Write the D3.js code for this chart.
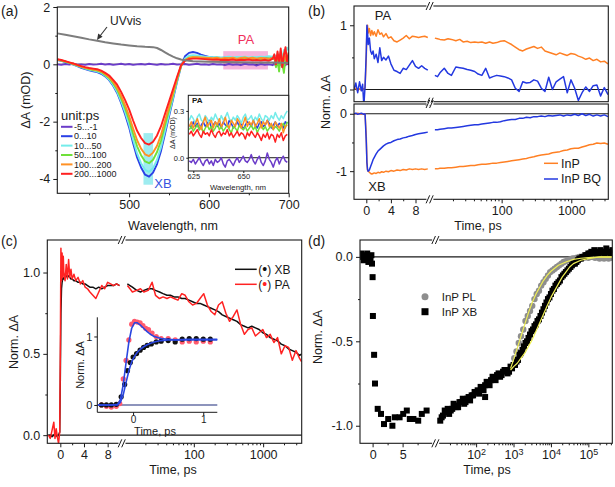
<!DOCTYPE html>
<html><head><meta charset="utf-8">
<script src="https://cdn.jsdelivr.net/npm/d3@7"></script>
<style>body{margin:0;background:#fff}</style>
</head><body>
<svg id="c" width="615" height="487" style="display:block"></svg>
<script>
// ---------------- DATA ----------------
// (a) transient spectra
const aWave = [410,415,420,425,430,435,440,445,450,455,460,465,
  470,475,480,485,490,495,500,505,510,515,520,525,530,535,540,545,550,555,560,565,
  570,575,580,585,590,595,600,605,610,615,620,625,630,635,640,645,650,655,660,665,670,675,680,
  682,684,686,688,690,692,694,696,698,700];
const aSeriesNames = ["-5...-1","0...10","10...50","50...100","100...200","200...1000"];
const aPurple = [0.0,-0.02,0.01,-0.01,0.02,-0.01,0.0,-0.02,0.01,-0.01,0.0,0.02,
  -0.01,0.01,-0.02,0.0,0.02,-0.01,0.01,-0.02,0.0,0.01,-0.01,0.02,0.0,-0.02,0.01,-0.01,0.0,0.02,-0.01,0.0,
  0.01,-0.02,0.0,0.02,-0.01,0.0,-0.02,0.01,-0.01,0.0,-0.03,0.01,-0.02,0.0,-0.03,0.02,-0.01,0.0,-0.04,0.01,-0.02,0.0,-0.03,
  0.04,-0.06,0.08,-0.04,0.02,-0.1,0.06,-0.03,0.05,-0.02];
const aBlue = [0.15,0.12,0.08,0.04,-0.01,-0.06,-0.12,-0.17,-0.21,-0.24,-0.27,-0.33,
  -0.42,-0.55,-0.75,-1.0,-1.35,-1.75,-2.2,-2.75,-3.25,-3.6,-3.85,-3.92,-3.78,-3.48,-3.02,-2.42,-1.82,-1.22,-0.62,-0.08,
  0.28,0.4,0.43,0.4,0.34,0.29,0.26,0.24,0.23,0.22,0.23,0.21,0.22,0.2,0.23,0.21,0.22,0.2,0.22,0.21,0.23,0.19,0.24,
  0.18,0.28,0.18,0.08,0.26,0.2,0.3,0.12,0.25,0.22];
const aCyan = [0.16,0.13,0.09,0.05,0.0,-0.05,-0.1,-0.15,-0.19,-0.22,-0.25,-0.3,
  -0.4,-0.53,-0.72,-0.96,-1.29,-1.67,-2.1,-2.63,-3.11,-3.45,-3.68,-3.75,-3.62,-3.33,-2.89,-2.32,-1.74,-1.17,-0.59,-0.07,
  0.2,0.3,0.32,0.31,0.29,0.27,0.26,0.25,0.26,0.24,0.25,0.27,0.24,0.26,0.25,0.27,0.24,0.26,0.25,0.27,0.26,0.28,0.27,
  0.32,0.15,0.4,0.2,0.45,0.18,0.5,0.3,0.58,0.5];
const aGreen = [0.16,0.13,0.09,0.05,0.01,-0.04,-0.09,-0.13,-0.17,-0.2,-0.22,-0.27,
  -0.37,-0.48,-0.66,-0.88,-1.19,-1.54,-1.94,-2.42,-2.86,-3.17,-3.39,-3.45,-3.33,-3.06,-2.66,-2.13,-1.6,-1.07,-0.55,-0.06,
  0.15,0.23,0.25,0.24,0.22,0.21,0.2,0.19,0.2,0.18,0.19,0.2,0.18,0.19,0.17,0.2,0.19,0.18,0.2,0.17,0.19,0.21,0.18,
  0.25,-0.1,0.12,-0.25,0.3,0.02,-0.3,0.25,0.05,0.4];
const aOrange = [0.17,0.14,0.1,0.06,0.02,-0.03,-0.08,-0.12,-0.15,-0.18,-0.2,-0.25,
  -0.34,-0.45,-0.61,-0.82,-1.1,-1.43,-1.8,-2.24,-2.65,-2.94,-3.14,-3.2,-3.08,-2.84,-2.46,-1.97,-1.49,-1.0,-0.5,-0.05,
  0.15,0.22,0.25,0.25,0.24,0.23,0.22,0.21,0.23,0.2,0.22,0.21,0.23,0.2,0.22,0.24,0.21,0.23,0.2,0.22,0.21,0.19,0.22,
  0.25,0.08,0.32,0.1,0.3,-0.02,0.38,0.15,0.3,0.2];
const aRed = [0.18,0.15,0.11,0.07,0.03,-0.02,-0.06,-0.1,-0.13,-0.15,-0.17,-0.22,
  -0.3,-0.39,-0.54,-0.71,-0.96,-1.25,-1.57,-1.96,-2.32,-2.57,-2.75,-2.8,-2.7,-2.48,-2.16,-1.73,-1.3,-0.87,-0.44,-0.04,
  0.12,0.18,0.2,0.2,0.19,0.18,0.17,0.16,0.17,0.15,0.16,0.15,0.17,0.14,0.16,0.15,0.17,0.14,0.15,0.13,0.16,0.12,0.2,
  0.35,0.0,0.45,0.08,0.55,-0.1,0.32,0.6,0.02,0.42];
const uvWave = [410,420,430,440,450,460,470,480,490,500,510,520,530,535,540,545,550,555,560,565,570,580,590,600,620,640,660,680,700];
const uvVal  = [1.08,1.03,0.98,0.93,0.87,0.82,0.77,0.73,0.69,0.66,0.63,0.61,0.6,0.57,0.5,0.42,0.34,0.27,0.21,0.17,0.14,0.11,0.1,0.09,0.08,0.07,0.06,0.06,0.05];
const paBand = [618, 674, -0.18, 0.46];
const xbBand = [518, 530, -4.2, -2.4];
const aXTicks = [500,600,700], aXMinor = [450,550,650];
const aYTicks = [2,0,-2,-4], aYMinor = [1,-1,-3];
// (a) inset
const insWave = [623,624,625,626,627,628,629,630,631,632,633,634,635,636,637,638,639,640,641,642,643,644,645,646,647,648,649,650,651,652,653,654,655,656,657,658,659,660,661,662,663,664,665,666,667,668,669,670,671,672];
const insCyan = [0.24,0.27,0.25,0.22,0.26,0.28,0.24,0.23,0.27,0.25,0.22,0.26,0.24,0.28,0.25,0.23,0.27,0.24,0.26,0.29,0.25,0.23,0.26,0.24,0.27,0.25,0.22,0.26,0.28,0.24,0.25,0.27,0.23,0.26,0.24,0.28,0.25,0.23,0.27,0.26,0.24,0.27,0.25,0.29,0.26,0.24,0.27,0.25,0.28,0.3];
const insBlue = [0.21,0.19,0.23,0.2,0.22,0.18,0.21,0.23,0.2,0.22,0.24,0.19,0.21,0.23,0.2,0.22,0.19,0.23,0.21,0.2,0.24,0.22,0.19,0.21,0.23,0.2,0.22,0.18,0.21,0.23,0.22,0.2,0.24,0.21,0.19,0.22,0.23,0.2,0.21,0.24,0.22,0.19,0.21,0.23,0.2,0.22,0.21,0.19,0.23,0.22];
const insOrange = [0.2,0.23,0.19,0.22,0.25,0.21,0.18,0.23,0.26,0.2,0.22,0.24,0.19,0.23,0.21,0.25,0.2,0.22,0.26,0.21,0.19,0.24,0.22,0.2,0.25,0.23,0.19,0.22,0.26,0.2,0.23,0.21,0.24,0.2,0.22,0.25,0.19,0.23,0.21,0.24,0.2,0.22,0.18,0.23,0.21,0.19,0.22,0.16,0.2,0.21];
const insGreen = [0.18,0.2,0.17,0.19,0.21,0.18,0.2,0.16,0.19,0.21,0.18,0.2,0.17,0.19,0.22,0.18,0.2,0.17,0.19,0.21,0.18,0.16,0.2,0.19,0.17,0.21,0.19,0.18,0.2,0.17,0.19,0.21,0.18,0.2,0.16,0.19,0.21,0.18,0.2,0.17,0.19,0.21,0.18,0.2,0.19,0.17,0.2,0.22,0.19,0.23];
const insRed = [0.15,0.17,0.14,0.16,0.18,0.15,0.13,0.17,0.15,0.16,0.14,0.18,0.15,0.13,0.16,0.17,0.14,0.16,0.15,0.18,0.14,0.16,0.13,0.15,0.17,0.14,0.16,0.15,0.12,0.16,0.14,0.17,0.15,0.13,0.16,0.14,0.11,0.15,0.13,0.16,0.12,0.15,0.14,0.1,0.15,0.13,0.16,0.11,0.14,0.15];
const insPurple = [-0.02,-0.03,-0.01,-0.04,-0.02,0.0,-0.03,-0.05,-0.02,-0.01,-0.04,-0.02,-0.05,-0.01,-0.03,-0.02,0.0,-0.04,-0.06,-0.02,-0.01,-0.03,-0.05,-0.02,0.0,-0.03,-0.01,0.01,-0.02,-0.03,-0.01,0.02,-0.02,-0.04,-0.01,0.01,-0.03,-0.05,-0.02,0.03,-0.01,-0.03,-0.06,-0.02,0.0,-0.04,-0.01,0.01,-0.02,-0.03];

// (b) kinetics
const bLinT = [-2,-1.7,-1.4,-1.1,-0.8,-0.6,-0.4,-0.2,0,0.1,0.2,0.3,0.5,0.7,0.9,1.1,1.3,1.6,1.9,2.2,2.5,2.8,3.2,3.6,4.0,4.5,5.0,5.5,6.0,6.5,7.0,7.5,8.0,8.5,9.0,9.5,10];
const bInpPALin = [0.0,0.02,-0.02,0.01,-0.01,0.02,0.0,0.03,0.5,0.95,1.0,0.88,0.95,0.84,0.92,0.85,0.9,0.83,0.93,0.86,0.88,0.82,0.87,0.8,0.82,0.76,0.74,0.77,0.8,0.84,0.79,0.83,0.82,0.81,0.82,0.83,0.81];
const bBqPALin = [0.0,0.1,-0.05,0.12,-0.02,0.08,-0.25,0.05,0.6,1.0,0.9,0.7,0.8,0.6,0.55,0.6,0.48,0.55,0.42,0.65,0.45,0.5,0.46,0.52,0.4,0.3,0.28,0.25,0.33,0.31,0.38,0.45,0.36,0.33,0.37,0.33,0.3];
const bInpXBLin = [0,0,0.01,0,-0.01,0,0,0,-0.4,-0.85,-0.98,-1.0,-1.02,-1.04,-1.05,-1.04,-1.03,-1.04,-1.02,-1.03,-1.01,-1.02,-1.0,-1.01,-0.99,-1.0,-0.98,-0.99,-0.97,-0.98,-0.96,-0.97,-0.96,-0.97,-0.96,-0.97,-0.96];
const bBqXBLin = [0,0.01,-0.01,0,0.01,0,-0.01,0,-0.5,-0.85,-0.97,-1.0,-0.98,-0.92,-0.86,-0.8,-0.76,-0.7,-0.65,-0.62,-0.59,-0.56,-0.53,-0.51,-0.5,-0.47,-0.45,-0.44,-0.42,-0.41,-0.39,-0.38,-0.36,-0.35,-0.34,-0.33,-0.32];
const bLogT = [11,12,13,15,17,19,22,25,28,32,36,41,46,52,59,67,75,85,96,109,123,139,157,178,201,227,257,290,328,371,419,474,536,606,685,774,875,989,1118,1264,1429,1615,1826,2064,2333,2637,2981,3370];
const bInpPALog = [0.8,0.79,0.78,0.77,0.79,0.78,0.76,0.78,0.74,0.75,0.73,0.74,0.73,0.74,0.72,0.74,0.72,0.73,0.75,0.76,0.73,0.7,0.66,0.62,0.6,0.63,0.65,0.67,0.64,0.66,0.6,0.58,0.56,0.54,0.57,0.55,0.53,0.56,0.55,0.52,0.5,0.47,0.49,0.45,0.47,0.43,0.44,0.4];
const bBqPALog = [0.22,0.2,0.26,0.33,0.25,0.22,0.35,0.34,0.33,0.31,0.3,0.28,0.24,0.22,0.33,0.18,0.2,0.22,0.21,0.2,0.18,0.15,0.02,-0.03,0.12,0.1,0.11,0.15,0.13,0.02,-0.03,0.19,0.0,0.12,0.16,0.2,-0.05,0.15,0.02,-0.17,-0.05,0.04,-0.03,0.06,0.07,-0.1,0.03,-0.08];
const bInpXBLog = [-0.96,-0.96,-0.95,-0.95,-0.94,-0.94,-0.93,-0.92,-0.92,-0.91,-0.9,-0.9,-0.89,-0.88,-0.88,-0.87,-0.86,-0.86,-0.85,-0.84,-0.83,-0.82,-0.81,-0.8,-0.79,-0.78,-0.76,-0.75,-0.73,-0.72,-0.71,-0.7,-0.68,-0.67,-0.66,-0.64,-0.63,-0.61,-0.6,-0.6,-0.58,-0.56,-0.54,-0.53,-0.51,-0.52,-0.51,-0.53];
const bBqXBLog = [-0.28,-0.28,-0.27,-0.26,-0.25,-0.25,-0.24,-0.23,-0.22,-0.21,-0.2,-0.19,-0.19,-0.18,-0.17,-0.16,-0.15,-0.15,-0.14,-0.12,-0.11,-0.1,-0.1,-0.08,-0.08,-0.06,-0.07,-0.05,-0.05,-0.04,-0.05,-0.03,-0.04,-0.03,-0.02,-0.04,-0.02,-0.03,-0.01,-0.03,0.0,-0.03,-0.01,-0.04,-0.02,-0.04,-0.02,-0.05];
const linTicks = [0,4,8], linMinor = [2,6];
const logTicks = [100,1000], logMinor = [20,30,40,50,60,70,80,90,200,300,400,500,600,700,800,900,2000,3000];

// (c) XB vs PA
const cLinT = [-2,-1.7,-1.4,-1.1,-0.9,-0.7,-0.5,-0.3,-0.1,0,0.1,0.2,0.3,0.4,0.5,0.6,0.8,1.0,1.2,1.4,1.6,1.8,2.0,2.3,2.6,3.0,3.4,3.8,4.2,4.6,5.0,5.5,6.0,6.5,7.0,7.5,8.0,8.5,9.0,9.5,10];
const cPALin = [0.0,-0.02,0.03,0.08,-0.02,0.04,-0.01,-0.05,0.02,0.5,1.15,0.95,1.12,0.97,1.1,1.0,0.95,1.05,0.96,1.08,0.97,1.02,0.96,0.99,0.95,0.97,0.93,0.95,0.91,0.9,0.88,0.86,0.84,0.88,0.92,0.9,0.94,0.93,0.92,0.93,0.92];
const cXBLin = [0.0,0.0,-0.01,0.0,0.01,0.0,-0.01,0.0,0.02,0.35,0.75,0.9,0.94,0.96,0.97,0.96,0.97,0.98,0.97,0.98,0.97,0.96,0.96,0.95,0.95,0.94,0.94,0.93,0.93,0.92,0.91,0.91,0.9,0.91,0.9,0.91,0.92,0.92,0.92,0.93,0.92];
const cLogT = [11,12,13,15,17,19,22,25,28,32,36,41,46,52,59,67,75,85,96,109,123,139,157,178,201,227,257,290,328,371,419,474,536,606,685,774,875,989,1118,1264,1429,1615,1826,2064,2333,2637,2981,3370,3600];
const cXBLog = [0.93,0.92,0.91,0.89,0.88,0.89,0.9,0.9,0.89,0.88,0.87,0.86,0.86,0.85,0.85,0.84,0.84,0.83,0.82,0.81,0.81,0.8,0.79,0.78,0.77,0.76,0.74,0.73,0.72,0.71,0.7,0.68,0.67,0.66,0.67,0.66,0.65,0.63,0.62,0.6,0.59,0.58,0.56,0.55,0.53,0.52,0.51,0.49,0.5];
const cPALog = [0.92,0.9,0.88,0.89,0.9,0.88,0.89,0.94,0.86,0.84,0.85,0.84,0.85,0.84,0.83,0.87,0.86,0.82,0.8,0.81,0.84,0.87,0.8,0.76,0.74,0.8,0.82,0.75,0.7,0.73,0.77,0.68,0.62,0.65,0.66,0.61,0.63,0.65,0.6,0.62,0.57,0.6,0.5,0.55,0.54,0.46,0.52,0.47,0.45];
// (c) inset
const insXbT = [-0.45,-0.38,-0.31,-0.24,-0.17,-0.12,-0.08,-0.04,0,0.05,0.1,0.15,0.2,0.26,0.33,0.4,0.5,0.6,0.7,0.8,0.9,1.0,1.1];
const insXbV = [0,0,0,0.01,0.12,0.3,0.5,0.62,0.7,0.75,0.8,0.84,0.87,0.89,0.92,0.93,0.94,0.92,0.96,0.97,0.97,0.96,0.96];
const insPaT = [-0.45,-0.38,-0.31,-0.24,-0.19,-0.14,-0.1,-0.06,-0.02,0.02,0.06,0.1,0.14,0.18,0.22,0.27,0.33,0.4,0.5,0.6,0.7,0.8,0.9,1.0,1.1];
const insPaV = [0,-0.02,-0.03,-0.02,0.02,0.38,0.65,0.95,1.18,1.22,1.21,1.2,1.16,1.12,1.1,1.05,1.0,0.97,0.97,0.95,0.92,0.93,0.92,0.93,0.92];
const fitT = [-0.5,-0.3,-0.22,-0.18,-0.14,-0.1,-0.06,-0.02,0.02,0.06,0.1,0.15,0.2,0.25,0.3,0.4,0.5,0.6,0.8,1.0,1.2];
const paFitV = [0,0,0.01,0.08,0.3,0.62,0.92,1.12,1.2,1.2,1.17,1.12,1.07,1.03,1.0,0.97,0.96,0.95,0.95,0.95,0.95];
const xbFitV = [0,0,0,0.04,0.15,0.33,0.5,0.63,0.71,0.77,0.81,0.85,0.88,0.9,0.92,0.94,0.95,0.95,0.96,0.96,0.96];

// (d) PL vs XB
const dLinT = [-1.9,-1.7,-1.5,-1.3,-1.1,-0.9,-0.7,-0.5,-0.35,-0.2,-0.1,0.0,0.05,0.25,0.4,0.85,1.4,1.9,2.6,3.3,3.7,4.5,5.1,5.7,6.2,6.8,7.6,8.2,9.0];
const dLinV = [0.02,0.0,-0.02,0.01,-0.01,0.02,-0.03,0.0,-0.02,0.01,-0.04,-0.12,-0.35,-0.58,-0.75,-0.9,-0.93,-0.99,-0.96,-1.0,-0.95,-0.95,-0.93,-0.91,-0.96,-0.96,-0.97,-0.93,-0.91];
const dLogT = [11,13,16,19,23,28,33,40,48,58,69,83,100,120,145,174,209,251,302,363,437,525,631,759,912,1096,1318,1585,1905,2291,2754,3311,3981,4786,5754,6918,8318,10000,12023,14454,17378,20893,25119,30200,36308,43652,52481,63096,75858,91201,109648,131826,158489,190546,229087,275423,331131,398107];
const dLogV = [-0.97,-0.94,-0.92,-0.93,-0.9,-0.88,-0.89,-0.86,-0.87,-0.84,-0.85,-0.82,-0.8,-0.81,-0.78,-0.76,-0.75,-0.73,-0.72,-0.7,-0.71,-0.68,-0.67,-0.68,-0.66,-0.64,-0.61,-0.57,-0.53,-0.5,-0.46,-0.43,-0.4,-0.37,-0.33,-0.29,-0.25,-0.22,-0.19,-0.16,-0.14,-0.11,-0.09,-0.07,-0.05,-0.04,-0.02,-0.01,0.0,0.01,0.02,0.02,0.03,0.02,0.03,0.02,0.03,0.02];
const dLogT2 = [12,14.5,17.4,21,25,30,36,44,52,63,76,91,110,132,158,191,229,275,331,398,479,575,692,832,1000,1202,1445,1738,2089,2512,3020,3631,4365,5248,6310,7586,9120,10965,13183,15849,19055,22909,27542,33113,39811,47863,57544,69183,83176,100000,120226,144544,173780,208930,251189,301995,363078,436516];
const dLogV2 = [-0.95,-0.91,-0.9,-0.91,-0.87,-0.89,-0.86,-0.84,-0.86,-0.83,-0.82,-0.8,-0.79,-0.77,-0.79,-0.74,-0.76,-0.71,-0.73,-0.69,-0.7,-0.67,-0.69,-0.65,-0.64,-0.62,-0.58,-0.55,-0.51,-0.48,-0.44,-0.41,-0.38,-0.35,-0.31,-0.27,-0.24,-0.2,-0.17,-0.15,-0.12,-0.1,-0.08,-0.06,-0.04,-0.03,-0.01,0.0,0.01,0.02,0.03,0.04,0.02,0.04,0.03,0.05,0.03,0.04];
const dXbExtraT = [174], dXbExtraV = [-0.83];
const dPLT = [912,1047,1202,1380,1585,1820,2089,2399,2754,3162,3631,4169,4786,5495,6310,7244,8318,9550,10965,12589,14454,16596,19055,21878,25119,28840,33113,38019,43652,50119,57544,66069,75858,87096,100000,114815,131826,151356,173780,199526,229087,263027,301995,346737,398107];
const dPLV = [-0.65,-0.6,-0.56,-0.51,-0.47,-0.43,-0.38,-0.35,-0.32,-0.29,-0.25,-0.22,-0.2,-0.17,-0.15,-0.13,-0.11,-0.09,-0.08,-0.07,-0.06,-0.05,-0.04,-0.03,-0.025,-0.02,-0.015,-0.01,-0.01,-0.005,0.0,0.0,-0.005,0.0,-0.005,0.0,0.0,-0.005,0.0,-0.01,-0.005,-0.01,-0.005,-0.01,-0.005];
const fitPLT = [832,1000,1259,1585,1995,2512,3162,3981,5012,6310,7943,10000,15849,25119,39811,63096,100000,199526,436516];
const fitPLV = [-0.66,-0.61,-0.54,-0.47,-0.4,-0.33,-0.27,-0.22,-0.18,-0.14,-0.11,-0.085,-0.05,-0.03,-0.015,-0.008,-0.004,-0.002,-0.001];
const fitXBT = [832,1000,1259,1585,1995,2512,3162,3981,5012,6310,7943,10000,12589,15849,19953,25119,31623,39811,63096,100000,199526,436516];
const fitXBV = [-0.67,-0.65,-0.63,-0.6,-0.57,-0.53,-0.49,-0.44,-0.39,-0.34,-0.29,-0.24,-0.2,-0.16,-0.12,-0.09,-0.06,-0.04,-0.02,-0.01,0.0,0.0];
const dLogTicks = [100,1000,10000,100000];
const dLogMinor = [20,30,40,50,60,70,80,90,200,300,400,500,600,700,800,900,2000,3000,4000,5000,6000,7000,8000,9000,20000,30000,40000,50000,60000,70000,80000,90000,200000,300000,400000];

// ---------------- HELPERS ----------------
const svg = d3.select("#c");
const F = '"Liberation Sans", Arial, Helvetica, sans-serif';
const INK = "#1a1a1a";

function txt(x, y, s, size, o = {}) {
  const t = svg.append("text").attr("x", x).attr("y", y).attr("font-size", size)
    .attr("font-family", F).attr("fill", o.fill || INK).text(s);
  if (o.anchor) t.attr("text-anchor", o.anchor);
  if (o.rot) t.attr("transform", `rotate(-90,${x},${y})`);
  if (o.weight) t.attr("font-weight", o.weight);
  return t;
}
function axis(gen, scale, tr, vals, size, fmt, fs, pad) {
  const a = gen(scale).tickValues(vals).tickSize(size).tickPadding(pad == null ? 3 : pad)
    .tickFormat(fmt || (() => ""));
  const g = svg.append("g").attr("transform", tr).call(a);
  g.select(".domain").remove();
  g.selectAll("line").attr("stroke", INK).attr("stroke-width", 1);
  g.selectAll("text").attr("font-size", fs || 12).attr("font-family", F).attr("fill", INK);
  return g;
}
let clipN = 0;
function clip(x0, y0, x1, y1) {
  const id = "cl" + (clipN++);
  svg.append("clipPath").attr("id", id).append("rect")
    .attr("x", x0).attr("y", y0).attr("width", x1 - x0).attr("height", y1 - y0);
  return `url(#${id})`;
}
function frame(x0, y0, x1, y1, sw) {
  svg.append("rect").attr("x", x0).attr("y", y0).attr("width", x1 - x0).attr("height", y1 - y0)
    .attr("fill", "none").attr("stroke", INK).attr("stroke-width", sw || 1.1);
}
function hline(x0, x1, y, color, w) {
  svg.append("line").attr("x1", x0).attr("x2", x1).attr("y1", y).attr("y2", y)
    .attr("stroke", color || INK).attr("stroke-width", w || 1.1);
}
function breakMark(x, y) {
  svg.append("rect").attr("x", x - 3.5).attr("y", y - 1.5).attr("width", 7).attr("height", 3).attr("fill", "#fff");
  [-2, 1.5].forEach(o => svg.append("line").attr("x1", x + o - 1.8).attr("y1", y + 4)
    .attr("x2", x + o + 1.8).attr("y2", y - 4).attr("stroke", INK).attr("stroke-width", 1));
}
function path(xs, ys, xsc, ysc, color, w, cp) {
  const gen = d3.line().x((d, i) => xsc(xs[i])).y((d, i) => ysc(ys[i]));
  svg.append("path").attr("d", gen(xs)).attr("fill", "none").attr("stroke", color)
    .attr("stroke-width", w).attr("stroke-linejoin", "round").attr("clip-path", cp);
}
function dots(xs, ys, xsc, ysc, color, r, cp) {
  svg.append("g").attr("clip-path", cp).selectAll("circle").data(xs).join("circle")
    .attr("cx", (d, i) => xsc(xs[i])).attr("cy", (d, i) => ysc(ys[i])).attr("r", r).attr("fill", color);
}
function squares(xs, ys, xsc, ysc, color, s, cp) {
  svg.append("g").attr("clip-path", cp).selectAll("rect").data(xs).join("rect")
    .attr("x", (d, i) => xsc(xs[i]) - s / 2).attr("y", (d, i) => ysc(ys[i]) - s / 2)
    .attr("width", s).attr("height", s).attr("fill", color);
}

// ---------------- PANEL (a) ----------------
{
  const X0 = 57.3, X1 = 288.7, Y0 = 7, Y1 = 193.3;
  const x = d3.scaleLinear().domain([410, 700]).range([X0, X1]);
  const y = d3.scaleLinear().domain([-4.5, 2]).range([Y1, Y0]);
  const cp = clip(X0, Y0, X1, Y1);
  svg.append("rect").attr("x", x(paBand[0])).attr("y", y(paBand[3])).attr("width", x(paBand[1]) - x(paBand[0]))
    .attr("height", y(paBand[2]) - y(paBand[3])).attr("fill", "#f6b3dc");
  svg.append("rect").attr("x", x(xbBand[0])).attr("y", y(xbBand[3])).attr("width", x(xbBand[1]) - x(xbBand[0]))
    .attr("height", y(xbBand[2]) - y(xbBand[3])).attr("fill", "#9eecf0");
  hline(X0, X1, y(0), INK, 1.3);
  const cols = ["#6b3cc9", "#2a40e6", "#74ecea", "#6fe03a", "#ff9124", "#ff2020"];
  const ser = [aPurple, aBlue, aCyan, aGreen, aOrange, aRed];
  ser.forEach((s, i) => path(aWave, s, x, y, cols[i], 1.9, cp));
  path(uvWave, uvVal, x, y, "#7d7d7d", 2, cp);
  // arrow
  svg.append("line").attr("x1", 107).attr("y1", 27).attr("x2", 100).attr("y2", 36).attr("stroke", "#333").attr("stroke-width", 1.1);
  svg.append("path").attr("d", "M97,40 L98.2,33.5 L102.6,36.8 Z").attr("fill", "#333");
  txt(110, 25, "UVvis", 12);
  txt(246, 44, "PA", 13, { anchor: "middle", fill: "#f0305c" });
  txt(163, 188, "XB", 13, { anchor: "middle", fill: "#3552e0" });
  frame(X0, Y0, X1, Y1);
  axis(d3.axisBottom, x, `translate(0,${Y1})`, aXTicks, 4, d => String(d), 12.5);
  axis(d3.axisBottom, x, `translate(0,${Y1})`, aXMinor, 2);
  axis(d3.axisLeft, y, `translate(${X0},0)`, aYTicks, 4, d => String(d), 12.5);
  axis(d3.axisLeft, y, `translate(${X0},0)`, aYMinor, 2);
  txt(173, 230, "Wavelength, nm", 12.5, { anchor: "middle" });
  txt(30, 100, "ΔA (mOD)", 12.5, { anchor: "middle", rot: true });
  txt(1, 16, "(a)", 14);
  // legend
  txt(61, 119.5, "unit:ps", 13);
  aSeriesNames.forEach((n, i) => {
    const yy = 126.8 + i * 9.4;
    svg.append("line").attr("x1", 61).attr("x2", 72.5).attr("y1", yy).attr("y2", yy).attr("stroke", cols[i]).attr("stroke-width", 2);
    txt(74, yy + 3.2, n, 9);
  });
  // inset
  const IX0 = 188.3, IX1 = 288.7, IY0 = 95.3, IY1 = 171;
  svg.append("rect").attr("x", IX0).attr("y", IY0).attr("width", IX1 - IX0).attr("height", IY1 - IY0).attr("fill", "#fff");
  const ix = d3.scaleLinear().domain([622.5, 672.7]).range([IX0, IX1]);
  const iy = d3.scaleLinear().domain([-0.085, 0.4]).range([IY1, IY0]);
  const icp = clip(IX0, IY0, IX1, IY1);
  hline(IX0, IX1, iy(0), INK, 1);
  const iser = [insPurple, insBlue, insCyan, insGreen, insOrange, insRed];
  iser.forEach((s, i) => path(insWave, s, ix, iy, cols[i], 1.5, icp));
  frame(IX0, IY0, IX1, IY1, 1);
  axis(d3.axisBottom, ix, `translate(0,${IY1})`, [625, 650], 2, d => String(d), 7.5, 1);
  axis(d3.axisLeft, iy, `translate(${IX0},0)`, [0, 0.3], 2, d => d.toFixed(1), 7.5, 2);
  txt(238, 190, "Wavelength, nm", 7.8, { anchor: "middle" });
  txt(175, 133, "ΔA (mOD)", 7, { anchor: "middle", rot: true });
  txt(192, 103, "PA", 8, { weight: "bold" });
}

// ---------------- PANEL (b) ----------------
{
  const X0 = 354, X1 = 608.3, XB1 = 427.8, XL0 = 432;
  const UY0 = 6, UY1 = 101.7, LY0 = 104, LY1 = 199.3;
  const xl = d3.scaleLinear().domain([-2, 10]).range([X0, XB1]);
  const xg = d3.scaleLog().domain([10, 3400]).range([XL0, X1]);
  const yu = d3.scaleLinear().domain([-0.19, 1.3]).range([UY1, UY0]);
  const yd = d3.scaleLinear().domain([-1.49, 0.17]).range([LY1, LY0]);
  const cu = clip(X0, UY0, X1, UY1), cd = clip(X0, LY0, X1, LY1);
  hline(X0, X1, yu(0), INK, 1.2);
  hline(X0, X1, yd(0), INK, 1.2);
  const OR = "#ff8024", BL = "#2338e0";
  path(bLinT, bInpPALin, xl, yu, OR, 1.5, cu);
  path(bLogT, bInpPALog, xg, yu, OR, 1.5, cu);
  path(bLinT, bBqPALin, xl, yu, BL, 1.5, cu);
  path(bLogT, bBqPALog, xg, yu, BL, 1.5, cu);
  path(bLinT, bInpXBLin, xl, yd, OR, 1.5, cd);
  path(bLogT, bInpXBLog, xg, yd, OR, 1.5, cd);
  path(bLinT, bBqXBLin, xl, yd, BL, 1.5, cd);
  path(bLogT, bBqXBLog, xg, yd, BL, 1.5, cd);
  frame(X0, UY0, X1, UY1);
  frame(X0, LY0, X1, LY1);
  axis(d3.axisBottom, xl, `translate(0,${LY1})`, linTicks, 4, d => String(d), 12.5);
  axis(d3.axisBottom, xl, `translate(0,${LY1})`, linMinor, 2);
  axis(d3.axisBottom, xg, `translate(0,${LY1})`, logTicks, 4, d => String(d), 12.5);
  axis(d3.axisBottom, xg, `translate(0,${LY1})`, logMinor, 2);
  axis(d3.axisLeft, yu, `translate(${X0},0)`, [0, 1], 4, d => String(d), 12.5);
  axis(d3.axisLeft, yu, `translate(${X0},0)`, [0.5], 2);
  axis(d3.axisLeft, yd, `translate(${X0},0)`, [0, -1], 4, d => String(d), 12.5);
  axis(d3.axisLeft, yd, `translate(${X0},0)`, [-0.5], 2);
  const bx = (XB1 + XL0) / 2;
  [UY0, UY1, LY0, LY1].forEach(yy => breakMark(bx, yy));
  txt(383, 20, "PA", 13, { anchor: "middle" });
  txt(377, 191, "XB", 13, { anchor: "middle" });
  txt(478, 230, "Time, ps", 12.5, { anchor: "middle" });
  txt(330, 102, "Norm. ΔA", 12.5, { anchor: "middle", rot: true });
  txt(308, 16, "(b)", 14);
  [["InP", OR, 163.3], ["InP BQ", BL, 179]].forEach(([n, c, yy]) => {
    svg.append("line").attr("x1", 544).attr("x2", 558).attr("y1", yy).attr("y2", yy).attr("stroke", c).attr("stroke-width", 1.5);
    txt(561, yy + 4.3, n, 12.5);
  });
}

// ---------------- PANEL (c) ----------------
{
  const X0 = 47.3, X1 = 301.7, XB1 = 119.5, XL0 = 124.5, Y0 = 240, Y1 = 443.3;
  const xl = d3.scaleLinear().domain([-2.2, 10]).range([X0, XB1]);
  const xg = d3.scaleLog().domain([10, 3600]).range([XL0, X1]);
  const y = d3.scaleLinear().domain([-0.05, 1.2]).range([Y1, Y0]);
  const cp = clip(X0, Y0, X1, Y1);
  hline(X0, X1, y(0), INK, 1.2);
  const RD = "#ff2222", BK = "#111";
  path(cLinT, cXBLin, xl, y, BK, 1.5, cp);
  path(cLogT, cXBLog, xg, y, BK, 1.5, cp);
  path(cLinT, cPALin, xl, y, RD, 1.5, cp);
  path(cLogT, cPALog, xg, y, RD, 1.5, cp);
  frame(X0, Y0, X1, Y1);
  axis(d3.axisBottom, xl, `translate(0,${Y1})`, linTicks, 4, d => String(d), 12.5);
  axis(d3.axisBottom, xl, `translate(0,${Y1})`, linMinor, 2);
  axis(d3.axisBottom, xg, `translate(0,${Y1})`, logTicks, 4, d => String(d), 12.5);
  axis(d3.axisBottom, xg, `translate(0,${Y1})`, logMinor, 2);
  axis(d3.axisLeft, y, `translate(${X0},0)`, [0, 0.5, 1], 4, d => d.toFixed(1), 12.5);
  axis(d3.axisLeft, y, `translate(${X0},0)`, [0.25, 0.75], 2);
  const bx = (XB1 + XL0) / 2;
  [Y0, Y1].forEach(yy => breakMark(bx, yy));
  txt(173, 474, "Time, ps", 12.5, { anchor: "middle" });
  txt(18, 342, "Norm. ΔA", 12.5, { anchor: "middle", rot: true });
  txt(1, 246, "(c)", 14);
  [["XB", BK, 269.3], ["PA", RD, 284.3]].forEach(([n, c, yy]) => {
    svg.append("line").attr("x1", 235).attr("x2", 256.7).attr("y1", yy).attr("y2", yy).attr("stroke", c).attr("stroke-width", 1.5);
    const t = txt(258.3, yy + 4.3, "(", 12);
    t.append("tspan").attr("fill", c).attr("font-size", 14).text("•");
    t.append("tspan").text(") " + n);
  });
  // inset
  const IX0 = 97.3, IX1 = 217.3, IY0 = 317.3, IY1 = 412.3;
  const ix = d3.scaleLinear().domain([-0.51, 1.2]).range([IX0, IX1]);
  const iy = d3.scaleLinear().domain([-0.107, 1.28]).range([IY1, IY0]);
  const icp = clip(IX0, IY0 - 3, IX1 + 3, IY1);
  hline(IX0, IX1, iy(0), "#1c2a7a", 1.1);
  dots(insPaT, insPaV, ix, iy, "#ff5a6e", 2.6, icp);
  dots(insXbT, insXbV, ix, iy, "#111", 2.6, icp);
  path(fitT, paFitV, ix, iy, "#2a46e0", 1.6, icp);
  path(fitT, xbFitV, ix, iy, "#2a46e0", 1.6, icp);
  svg.append("line").attr("x1", IX0).attr("x2", IX0).attr("y1", IY0).attr("y2", IY1).attr("stroke", INK).attr("stroke-width", 1);
  hline(IX0, IX1, IY1, INK, 1);
  axis(d3.axisBottom, ix, `translate(0,${IY1})`, [0, 1], 3, d => String(d), 10, 1);
  axis(d3.axisLeft, iy, `translate(${IX0},0)`, [0, 1], 3, d => String(d), 11, 2);
  txt(155, 434.5, "Time, ps", 11, { anchor: "middle" });
  txt(84, 365, "Norm. ΔA", 11, { anchor: "middle", rot: true });
}

// ---------------- PANEL (d) ----------------
{
  const X0 = 360, X1 = 612.3, XB1 = 432.6, XL0 = 438.7, Y0 = 240, Y1 = 443.3;
  const xl = d3.scaleLinear().domain([-2.1, 10]).range([X0, XB1]);
  const xg = d3.scaleLog().domain([10, 436516]).range([XL0, X1]);
  const y = d3.scaleLinear().domain([-1.104, 0.1]).range([Y1, Y0]);
  const cp = clip(X0, Y0, X1, Y1);
  hline(X0, X1, y(0), INK, 1.2);
  dots(dPLT, dPLV, xg, y, "#8e8e8e", 3.2, cp);
  squares(dLinT, dLinV, xl, y, "#000", 6, cp);
  squares(dLogT, dLogV, xg, y, "#000", 6, cp);
  squares(dLogT2, dLogV2, xg, y, "#000", 6, cp);
  squares(dXbExtraT, dXbExtraV, xg, y, "#000", 6, cp);
  path(fitPLT, fitPLV, xg, y, "#eeee55", 1.2, cp);
  path(fitXBT, fitXBV, xg, y, "#eeee55", 1.2, cp);
  frame(X0, Y0, X1, Y1);
  axis(d3.axisBottom, xl, `translate(0,${Y1})`, [0, 5], 4, d => String(d), 12.5);
  axis(d3.axisBottom, xl, `translate(0,${Y1})`, [2.5, 7.5], 2);
  const lg = axis(d3.axisBottom, xg, `translate(0,${Y1})`, dLogTicks, 4, d => String(d), 12.5);
  lg.selectAll("text").each(function (d) {
    const t = d3.select(this);
    t.text("10");
    t.append("tspan").attr("dy", "-0.45em").attr("font-size", 9).text(String(Math.round(Math.log10(d))));
  });
  axis(d3.axisBottom, xg, `translate(0,${Y1})`, dLogMinor, 2);
  axis(d3.axisLeft, y, `translate(${X0},0)`, [0, -0.5, -1], 4, d => d.toFixed(1), 12.5);
  axis(d3.axisLeft, y, `translate(${X0},0)`, [-0.25, -0.75], 2);
  const bx = (XB1 + XL0) / 2;
  [Y0, Y1].forEach(yy => breakMark(bx, yy));
  txt(487, 474, "Time, ps", 12.5, { anchor: "middle" });
  txt(322, 337, "Norm. ΔA", 12.5, { anchor: "middle", rot: true });
  txt(308, 246, "(d)", 14);
  svg.append("circle").attr("cx", 425).attr("cy", 296.7).attr("r", 3.5).attr("fill", "#8e8e8e");
  txt(441.7, 300.8, "InP PL", 11.5);
  svg.append("rect").attr("x", 421.5).attr("y", 308.2).attr("width", 7).attr("height", 7).attr("fill", "#000");
  txt(441.7, 315.8, "InP XB", 11.5);
}
</script>
</body></html>
